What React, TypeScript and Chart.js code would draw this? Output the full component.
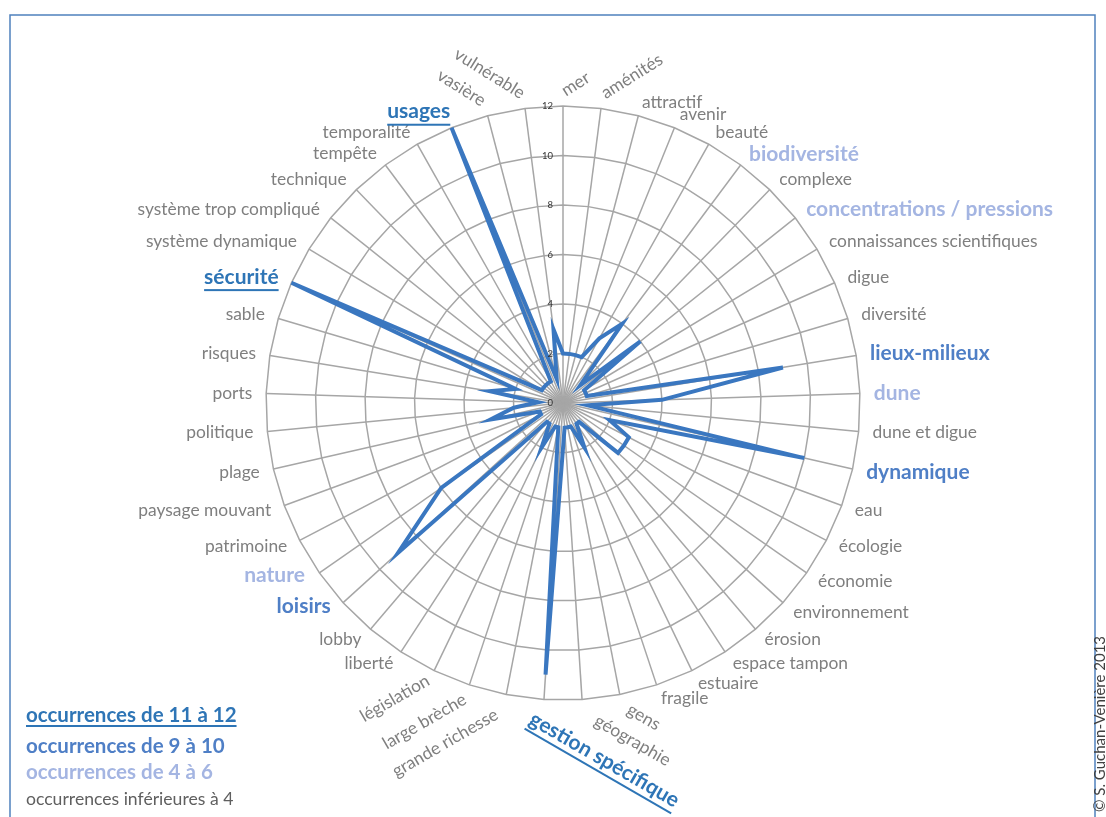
import React, { useEffect, useRef } from 'react';
import { Chart, registerables } from 'chart.js';

Chart.register(...registerables);

// ---------- data ----------
const CATEGORIES = [
  'mer', 'aménités', 'attractif', 'avenir', 'beauté', 'biodiversité', 'complexe',
  'concentrations / pressions', 'connaissances scientifiques', 'digue', 'diversité',
  'lieux-milieux', 'dune', 'dune et digue', 'dynamique', 'eau', 'écologie', 'économie',
  'environnement', 'érosion', 'espace tampon', 'estuaire', 'fragile', 'gens', 'géographie',
  'gestion spécifique', 'grande richesse', 'large brèche', 'législation', 'liberté', 'lobby',
  'loisirs', 'nature', 'patrimoine', 'paysage mouvant', 'plage', 'politique', 'ports',
  'risques', 'sable', 'sécurité', 'système dynamique', 'système trop compliqué', 'technique',
  'tempête', 'temporalité', 'usages', 'vasière', 'vulnérable',
];

const OCCURRENCES = [
  2, 2, 2, 2, 3, 4, 1,
  4, 1, 1, 1,
  9, 4, 1, 10, 2, 3, 3,
  3, 1, 1, 2, 1, 1, 1,
  11, 1, 1, 2, 1, 1,
  9, 6, 1, 1, 3, 2, 1,
  3, 2, 12, 1, 1, 1,
  1, 1, 12, 1, 3,
];

const TICK_VALUES = [0, 2, 4, 6, 8, 10, 12];

const LEGEND_LABELS = [
  'occurrences de 11 à 12',
  'occurrences de 9 à 10',
  'occurrences de 4 à 6',
  'occurrences inférieures à 4',
];

const CREDIT = '© S. Guchan-Venière 2013';

// ---------- styles ----------
const FONT = 'Lato, "Open Sans", sans-serif';
const LEVEL_COLORS = ['#2E75B6', '#4F7FC6', '#A4B5E2', '#7F7F7F'];
const LEGEND_COLORS = ['#2E75B6', '#4F7FC6', '#A4B5E2', '#5F5F5F'];
const LINE_COLOR = '#3A77C0';
const GRID_COLOR = '#A6A6A6';
const FRAME_COLOR = '#4F81BD';

// small placement nudges for a few labels (dx, dy)
const LABEL_NUDGE: Record<string, [number, number]> = {
  'gens': [6, 0],
  'géographie': [13, 6],
  'gestion spécifique': [-12, 4],
  'grande richesse': [-7, 5],
  'législation': [0, -4],
  'usages': [4, -3],
  'loisirs': [-2, -6],
  'nature': [-3, -6],
};

function levelOf(v: number): number {
  if (v >= 11) return 0;
  if (v >= 9) return 1;
  if (v >= 4) return 2;
  return 3;
}

const decorPlugin = {
  id: 'decor',
  afterDraw(chart: any) {
    const ctx: CanvasRenderingContext2D = chart.ctx;
    const scale = chart.scales.r;
    const R = scale.drawingArea;
    const N = CATEGORIES.length;

    // frame
    ctx.save();
    ctx.strokeStyle = FRAME_COLOR;
    ctx.lineWidth = 1.5;
    ctx.strokeRect(10, 15, 1085, 900);
    ctx.restore();

    // tick labels
    ctx.save();
    ctx.font = `9.5px ${FONT}`;
    ctx.fillStyle = '#333333';
    ctx.textAlign = 'right';
    ctx.textBaseline = 'middle';
    for (const v of TICK_VALUES) {
      const d = scale.getDistanceFromCenterForValue(v);
      ctx.fillText(String(v), scale.xCenter - 10, scale.yCenter - d);
    }
    ctx.restore();

    // category labels
    for (let i = 0; i < N; i++) {
      const label = CATEGORIES[i];
      const deg = (i * 360) / N;
      const p = scale.getPointPosition(i, R + 14);
      const lvl = levelOf(OCCURRENCES[i]);
      let rot = 0;
      let align: CanvasTextAlign;
      if (deg < 10) { rot = -32; align = 'left'; }
      else if (deg > 340) { rot = 32; align = 'right'; }
      else if (deg > 165 && deg < 185) { rot = 30; align = 'left'; }
      else if (deg >= 185 && deg < 210) { rot = -30; align = 'right'; }
      else align = deg < 180 ? 'left' : 'right';
      const [dx, dy] = LABEL_NUDGE[label] || [0, 0];
      ctx.save();
      ctx.translate(p.x + dx, p.y + dy);
      ctx.rotate((rot * Math.PI) / 180);
      ctx.font = lvl < 3 ? `bold 21px ${FONT}` : `17.4px ${FONT}`;
      ctx.fillStyle = LEVEL_COLORS[lvl];
      ctx.textAlign = align;
      ctx.textBaseline = 'middle';
      ctx.fillText(label, 0, 0);
      if (lvl === 0) {
        const w = ctx.measureText(label).width;
        const x0 = align === 'left' ? 0 : -w;
        ctx.fillRect(x0, 12, w, 2);
      }
      ctx.restore();
    }

    // legend
    ctx.save();
    ctx.textAlign = 'left';
    ctx.textBaseline = 'middle';
    const legendY = [715, 746, 772, 799];
    LEGEND_LABELS.forEach((t, k) => {
      ctx.font = k < 3 ? `bold 20.5px ${FONT}` : `17.6px ${FONT}`;
      ctx.fillStyle = LEGEND_COLORS[k];
      ctx.fillText(t, 26, legendY[k]);
      if (k === 0) {
        const w = ctx.measureText(t).width;
        ctx.fillRect(26, legendY[k] + 10, w, 2);
      }
    });
    ctx.restore();

    // credit
    ctx.save();
    ctx.translate(1105, 812);
    ctx.rotate(-Math.PI / 2);
    ctx.font = `15px ${FONT}`;
    ctx.fillStyle = '#404040';
    ctx.textAlign = 'left';
    ctx.textBaseline = 'alphabetic';
    ctx.fillText(CREDIT, 0, 0);
    ctx.restore();
  },
};

export default function App() {
  const ref = useRef<HTMLCanvasElement>(null);
  useEffect(() => {
    if (!ref.current) return;
    const chart = new Chart(ref.current, {
      type: 'radar',
      data: {
        labels: CATEGORIES,
        datasets: [
          {
            label: 'occurrences',
            data: OCCURRENCES,
            borderColor: LINE_COLOR,
            borderWidth: 4,
            pointRadius: 0,
            pointHoverRadius: 0,
            fill: false,
            tension: 0,
          },
        ],
      },
      options: {
        responsive: false,
        animation: false,
        devicePixelRatio: 1,
        layout: { padding: { left: 266, right: 246, top: 106, bottom: 117 } },
        plugins: { legend: { display: false }, tooltip: { enabled: false } },
        scales: {
          r: {
            min: 0,
            max: 12,
            ticks: { stepSize: 2, display: false },
            grid: { color: GRID_COLOR, lineWidth: 1.5 },
            angleLines: { color: GRID_COLOR, lineWidth: 1.5 },
            pointLabels: { display: false },
          },
        },
      },
      plugins: [decorPlugin],
    } as any);
    return () => chart.destroy();
  }, []);
  return (
    <div style={{ position: 'absolute', left: 0, top: 0, width: 1106, height: 817, background: '#ffffff' }}>
      <canvas ref={ref} width={1106} height={817} style={{ display: 'block', width: 1106, height: 817 }} />
    </div>
  );
}
